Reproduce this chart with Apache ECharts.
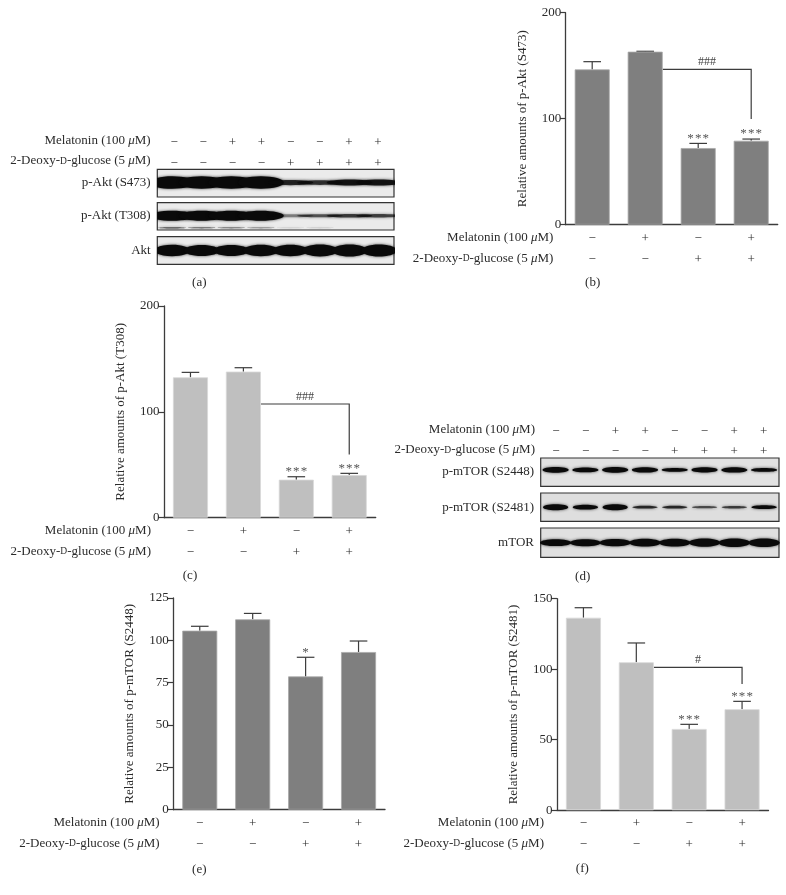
<!DOCTYPE html>
<html>
<head>
<meta charset="utf-8">
<style>html,body{margin:0;padding:0;background:#fff}#c{width:786px;height:895px}</style>
<script src="https://cdn.jsdelivr.net/npm/echarts@6/dist/echarts.min.js"></script>
</head>
<body>
<div id="c"></div>
<script>
// ---- data ----
const melatonin4 = ['−', '+', '−', '+'];
const deoxy4 = ['−', '−', '+', '+'];
const melatonin8 = ['−', '−', '+', '+', '−', '−', '+', '+'];
const deoxy8 = ['−', '−', '−', '−', '+', '+', '+', '+'];

const aktS473Mean = [146.5, 163.2, 72.3, 79.2];
const aktS473Top = [153.8, 163.6, 76.7, 80.8];
const aktS473Sig = ['', '', '***', '***'];
const aktS473Bracket = [1, 3, 146.5, 99.7];
const aktS473Hash = '###';

const aktT308Mean = [132.6, 138, 35.9, 40.3];
const aktT308Top = [137.3, 141.7, 38.7, 41.9];
const aktT308Sig = ['', '', '***', '***'];
const aktT308Bracket = [1, 3, 107.4, 59.8];
const aktT308Hash = '###';

const mtorS2448Mean = [105.7, 112.4, 78.7, 93.1];
const mtorS2448Top = [108.3, 115.9, 90, 99.6];
const mtorS2448Sig = ['', '', '*', ''];

const mtorS2481Mean = [136.5, 104.9, 57.6, 71.6];
const mtorS2481Top = [143.6, 118.6, 60.9, 77.2];
const mtorS2481Sig = ['', '', '***', '***'];
const mtorS2481Bracket = [1, 3, 101.3, 89.5];
const mtorS2481Hash = '#';

// western-blot band densities per lane (0..1)
const blotAktS473 = [1, 1, 1, 1, 0.42, 0.38, 0.48, 0.48];
const blotAktT308 = [1, 1, 1, 1, 0.2, 0.3, 0.36, 0.34];
const blotAktT308Lower = [0.34, 0.3, 0.26, 0.2, 0.05, 0.06, 0, 0];
const blotAkt = [0.95, 0.92, 0.92, 0.95, 0.95, 0.98, 1, 1];
const blotMtorS2448 = [0.85, 0.75, 0.85, 0.8, 0.55, 0.78, 0.82, 0.6];
const blotMtorS2481 = [0.85, 0.7, 0.85, 0.42, 0.42, 0.32, 0.36, 0.55];
const blotMtor = [0.8, 0.82, 0.85, 0.9, 0.9, 0.95, 1, 1];

const melatoninLabel = '{t|Melatonin (100 }{i|μ}{t|M)}';
const deoxyLabel = '{t|2-Deoxy-}{s|D}{t|-glucose (5 }{i|μ}{t|M)}';

// ---- drawing ----
const FONT = '"Liberation Serif", serif';
const INK = '#2b2b2b', LINE = '#3c3c3c';
const grids = [], xAxes = [], yAxes = [], series = [], graphics = [];

function rowLabel(text, x, y) {
  graphics.push({type:'text', silent:true, style:{
    text, x, y, align:'right', verticalAlign:'middle', fill:INK,
    font:'13px ' + FONT,
    rich:{
      t:{fontFamily:'Liberation Serif', fontSize:13, fill:INK, color:INK},
      i:{fontFamily:'Liberation Serif', fontSize:13, fontStyle:'italic', fill:INK, color:INK},
      s:{fontFamily:'Liberation Serif', fontSize:9.5, fill:INK, color:INK}
    }
  }});
}
function caption(text, x, y) {
  graphics.push({type:'text', silent:true, style:{text, x, y, align:'center', verticalAlign:'middle', fill:INK, font:'13px ' + FONT}});
}

function barPanel(o) {
  const idx = grids.length;
  grids.push({left:o.left, top:o.gridTop, width:o.size, height:o.size});
  xAxes.push({
    gridIndex:idx, type:'category', data:melatonin4.map((m, i) => m + '\n' + deoxy4[i]),
    axisLine:{onZero:false, lineStyle:{color:LINE, width:1.3}}, axisTick:{show:false},
    axisLabel:{fontFamily:'Liberation Serif', fontSize:13, color:INK, lineHeight:21, margin:3, interval:0}
  });
  yAxes.push({
    gridIndex:idx, type:'value', min:0, max:o.max, interval:o.interval, splitLine:{show:false},
    axisLine:{show:true, lineStyle:{color:LINE, width:1.3}},
    axisTick:{show:true, length:5.6, lineStyle:{color:LINE, width:1.2}},
    axisLabel:{fontFamily:'Liberation Serif', fontSize:13, color:INK, margin:4.5},
    name:o.title, nameLocation:'middle', nameGap:o.nameGap, nameRotate:90,
    nameTextStyle:{fontFamily:'Liberation Serif', fontSize:13, color:INK}
  });
  series.push({
    type:'bar', xAxisIndex:idx, yAxisIndex:idx, data:o.mean, barWidth:35, silent:true, animation:false,
    itemStyle:{color:o.color, borderColor:o.edge, borderWidth:0.8}
  });
  // error bars and significance marks
  series.push({
    type:'custom', xAxisIndex:idx, yAxisIndex:idx, silent:true, animation:false, clip:false,
    data:o.mean.map((m, i) => [i, m, o.errTop[i]]),
    renderItem(params, api) {
      const a = api.coord([api.value(0), api.value(1)]);
      const b = api.coord([api.value(0), api.value(2)]);
      const sig = o.sig[params.dataIndex];
      const children = [
        {type:'line', shape:{x1:a[0], y1:a[1], x2:b[0], y2:b[1]}, style:{stroke:LINE, lineWidth:1.2}},
        {type:'line', shape:{x1:b[0]-8.8, y1:b[1], x2:b[0]+8.8, y2:b[1]}, style:{stroke:LINE, lineWidth:1.2}}
      ];
      if (sig) children.push({type:'text', style:{
        text:sig.split('').join('\u200a'), x:b[0], y:b[1]-5, align:'center', verticalAlign:'middle',
        fill:'#555', font:'13px ' + FONT}});
      return {type:'group', children};
    }
  });
  // bracket with # annotation
  if (o.bracket) {
    series.push({
      type:'custom', xAxisIndex:idx, yAxisIndex:idx, silent:true, animation:false, clip:false,
      data:[o.bracket],
      renderItem(params, api) {
        const s = api.coord([api.value(0), api.value(2)]);
        const e = api.coord([api.value(1), api.value(2)]);
        const d = api.coord([api.value(1), api.value(3)]);
        const x0 = s[0] + 17.5;
        return {type:'group', children:[
          {type:'polyline', shape:{points:[[x0, s[1]], [e[0], e[1]], [d[0], d[1]]]}, style:{stroke:LINE, lineWidth:1.2, fill:null}},
          {type:'text', style:{text:o.hash, x:(x0 + e[0]) / 2, y:s[1]-7.5, align:'center', verticalAlign:'middle', fill:'#444', font:'12px ' + FONT}}
        ]};
      }
    });
  }
  rowLabel(melatoninLabel, o.labelRight, o.gridTop + o.size + 12.7);
  rowLabel(deoxyLabel, o.labelRight, o.gridTop + o.size + 33.5);
}

function laneHeader(left, width, bottom, labelRight, y1, y2) {
  const idx = grids.length;
  grids.push({left, width, top:bottom, height:1});
  xAxes.push({
    gridIndex:idx, type:'category', position:'top', data:melatonin8.map((m, i) => m + '\n' + deoxy8[i]),
    axisLine:{show:false}, axisTick:{show:false},
    axisLabel:{fontFamily:'Liberation Serif', fontSize:13, color:INK, lineHeight:20.3, margin:-2, interval:0}
  });
  yAxes.push({gridIndex:idx, type:'value', min:0, max:1, show:false});
  series.push({type:'bar', xAxisIndex:idx, yAxisIndex:idx, data:[], silent:true});
  rowLabel(melatoninLabel, labelRight, y1);
  rowLabel(deoxyLabel, labelRight, y2);
}

function blot(o) {
  const idx = grids.length;
  grids.push({left:o.left, top:o.gridTop, width:o.width, height:o.height, show:true,
    backgroundColor:o.bg, borderColor:'#333', borderWidth:1.2});
  xAxes.push({gridIndex:idx, type:'category', data:o.bands.map((_, i) => i), show:false});
  yAxes.push({gridIndex:idx, type:'value', min:0, max:1, show:false});
  const draw = (values, yPos, maxH, wide) => series.push({
    type:'custom', xAxisIndex:idx, yAxisIndex:idx, silent:true, animation:false, clip:true,
    data:values.map((v, i) => [i, v]),
    renderItem(params, api) {
      const v = api.value(1);
      if (v <= 0) return {type:'group', children:[]};
      const c = api.coord([api.value(0), yPos]);
      const w = api.size([1, 0])[0];
      return {type:'ellipse', shape:{cx:c[0], cy:c[1], rx:w * wide / 2, ry:maxH * Math.max(v, 0.3) / 2},
        style:{fill:'#0a0a0a', opacity:Math.min(1, v * 1.9), shadowBlur:3, shadowColor:'rgba(0,0,0,0.7)'}};
    }
  });
  draw(o.bands, o.y, o.maxH, o.wide);
  if (o.lower) draw(o.lower, o.lowerY, 4, 0.95);
  rowLabel('{t|' + o.label + '}', o.labelRight, o.labelY);
}

// ---- panels ----
// (a)
laneHeader(159.5, 233, 171.5, 150.7, 140.7, 161);
blot({left:157.3, gridTop:169.3, width:236.7, height:27.7, bg:'#ebebeb', bands:blotAktS473, y:0.52, maxH:12.5, wide:1.55, label:'p-Akt (S473)', labelRight:150.7, labelY:182.7});
blot({left:157.3, gridTop:202.7, width:236.7, height:27.3, bg:'#ebebeb', bands:blotAktT308, y:0.52, maxH:10, wide:1.55, lower:blotAktT308Lower, lowerY:0.08, label:'p-Akt (T308)', labelRight:150.7, labelY:216});
blot({left:157.3, gridTop:236.7, width:236.7, height:27.6, bg:'#ebebeb', bands:blotAkt, y:0.5, maxH:12, wide:1.2, label:'Akt', labelRight:150.7, labelY:250.7});
caption('(a)', 199.3, 283);
// (b)
barPanel({left:565.7, gridTop:12.7, size:212, max:200, interval:100, mean:aktS473Mean, errTop:aktS473Top, sig:aktS473Sig, bracket:aktS473Bracket, hash:aktS473Hash,
  color:'#7f7f7f', edge:'#a8a8a8', title:'Relative amounts of p-Akt (S473)', nameGap:36.5, labelRight:553.3});
caption('(b)', 592.7, 283);
// (c)
barPanel({left:164, gridTop:306, size:211.7, max:200, interval:100, mean:aktT308Mean, errTop:aktT308Top, sig:aktT308Sig, bracket:aktT308Bracket, hash:aktT308Hash,
  color:'#bfbfbf', edge:'#d8d8d8', title:'Relative amounts of p-Akt (T308)', nameGap:36.5, labelRight:151});
caption('(c)', 190, 576);
// (d)
laneHeader(541.2, 237.4, 460, 535, 430, 450);
blot({left:540.7, gridTop:458, width:238.3, height:28.3, bg:'#e2e2e2', bands:blotMtorS2448, y:0.58, maxH:6.5, wide:0.88, label:'p-mTOR (S2448)', labelRight:534, labelY:472});
blot({left:540.7, gridTop:493, width:238.3, height:28.3, bg:'#dedede', bands:blotMtorS2481, y:0.5, maxH:7, wide:0.85, label:'p-mTOR (S2481)', labelRight:534, labelY:507.3});
blot({left:540.7, gridTop:528, width:238.3, height:29.3, bg:'#e0e0e0', bands:blotMtor, y:0.5, maxH:8.5, wide:1.05, label:'mTOR', labelRight:534, labelY:542.7});
caption('(d)', 582.7, 576.7);
// (e)
barPanel({left:173.3, gridTop:598, size:211.7, max:125, interval:25, mean:mtorS2448Mean, errTop:mtorS2448Top, sig:mtorS2448Sig,
  color:'#7f7f7f', edge:'#a8a8a8', title:'Relative amounts of p-mTOR (S2448)', nameGap:37.5, labelRight:159.7});
caption('(e)', 199.3, 869.3);
// (f)
barPanel({left:557, gridTop:598.7, size:211.5, max:150, interval:50, mean:mtorS2481Mean, errTop:mtorS2481Top, sig:mtorS2481Sig, bracket:mtorS2481Bracket, hash:mtorS2481Hash,
  color:'#bfbfbf', edge:'#d8d8d8', title:'Relative amounts of p-mTOR (S2481)', nameGap:37, labelRight:544});
caption('(f)', 582.3, 869);

const chart = echarts.init(document.getElementById('c'), null, {renderer:'canvas', width:786, height:895});
chart.setOption({animation:false, backgroundColor:'#fff', grid:grids, xAxis:xAxes, yAxis:yAxes, series, graphic:{elements:graphics}});
</script>
</body>
</html>
